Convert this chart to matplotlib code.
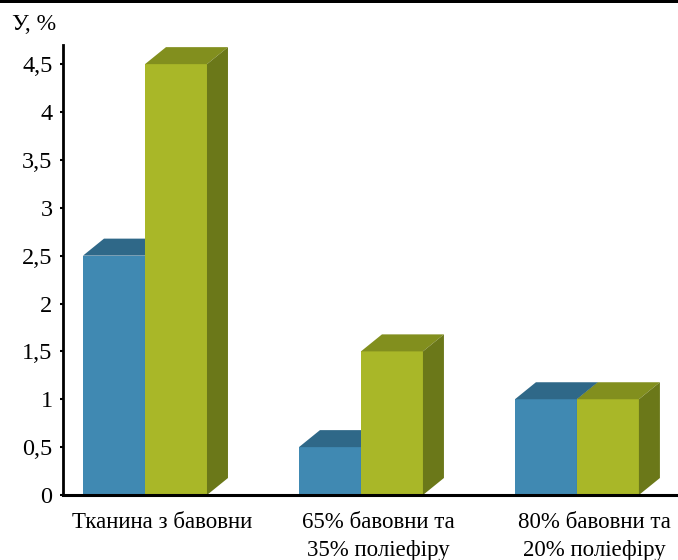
import matplotlib
import matplotlib.pyplot as plt
from matplotlib.patches import Polygon, Rectangle
from matplotlib.ticker import FuncFormatter, MultipleLocator

matplotlib.use('Agg')

categories = ['Тканина з бавовни', '65% бавовни та\n35% поліефіру', '80% бавовни та\n20% поліефіру']
series_blue = [2.5, 0.5, 1.0]
series_green = [4.5, 1.5, 1.0]

blue_front, blue_top, blue_side = '#4089b2', '#2f6888', '#2a5d7a'
green_front, green_top, green_side = '#a9b728', '#828f1e', '#6b7819'

plt.rcParams['font.family'] = ['Liberation Serif', 'DejaVu Serif']

fig = plt.figure(figsize=(6.78, 5.6), dpi=100)
ax = fig.add_axes([63 / 678, 65 / 560, 615 / 678, 450 / 560])

ax.set_xlim(-0.3796, 2.468)
ax.set_ylim(0, 4.70)

# depth of the fake 3D boxes, in data units (about 21 px right, 17 px up)
dx = 21 / 216
dy = 17 / 95.7
width = 62 / 216


def box(x0, h, front, top, side):
    x1 = x0 + width
    ax.add_patch(Polygon([(x0, 0), (x1, 0), (x1, h), (x0, h)], closed=True,
                         facecolor=front, edgecolor='none', zorder=2))
    ax.add_patch(Polygon([(x0, h), (x1, h), (x1 + dx, h + dy), (x0 + dx, h + dy)], closed=True,
                         facecolor=top, edgecolor='none', zorder=2))
    ax.add_patch(Polygon([(x1, 0), (x1 + dx, dy), (x1 + dx, h + dy), (x1, h)], closed=True,
                         facecolor=side, edgecolor='none', zorder=2))


for i, (b, g) in enumerate(zip(series_blue, series_green)):
    box(i - width, b, blue_front, blue_top, blue_side)
    box(i, g, green_front, green_top, green_side)

ax.yaxis.set_major_locator(MultipleLocator(0.5))
ax.yaxis.set_major_formatter(FuncFormatter(lambda v, p: ('%g' % v).replace('.', ',')))
ax.tick_params(axis='y', direction='out', length=2.5, width=1.5, labelsize=17.5, pad=5)

ax.set_xticks([i + 0.08 for i in range(len(categories))])
ax.set_xticklabels(categories, fontsize=16.5, linespacing=1.45)
ax.tick_params(axis='x', length=0, pad=12)

for sp in ['top', 'right']:
    ax.spines[sp].set_visible(False)
ax.spines['left'].set_linewidth(2)
ax.spines['bottom'].set_linewidth(2.2)

fig.text(12 / 678, 1 - 25 / 560, 'У, %', fontsize=17, ha='left', va='center')

# black border line along the top edge
fig.add_artist(Rectangle((0, 1 - 3 / 560), 1, 3 / 560, transform=fig.transFigure,
                         facecolor='black', edgecolor='none'))

plt.savefig('out.png', dpi=100)
